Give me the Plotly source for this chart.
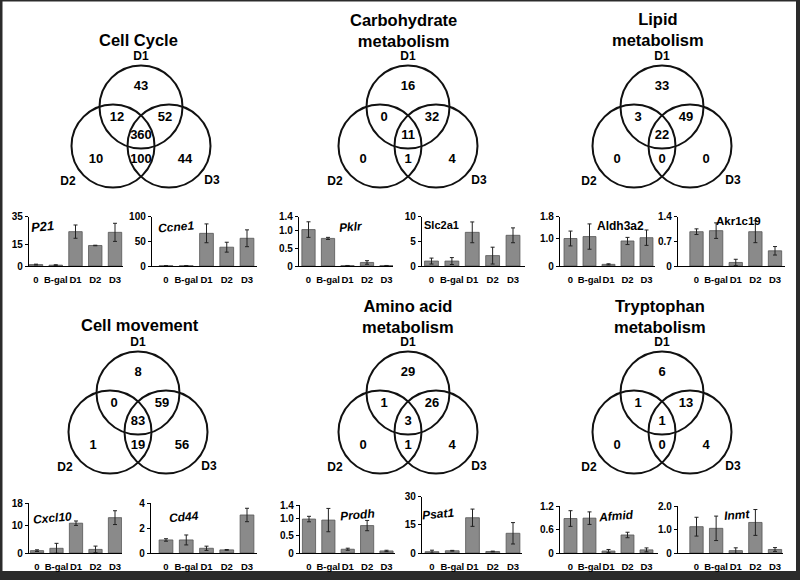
import plotly.graph_objects as go

# ---------------- data ----------------
categories = ["0", "B-gal", "D1", "D2", "D3"]

p21 = [1.0, 0.6, 24.3, 14.5, 23.8]
p21_err = [0.3, 0.3, 4.7, 0.2, 6.4]
ccne1 = [0.5, 0.5, 66, 38, 56]
ccne1_err = [0.3, 0.3, 19, 10, 17]
pklr = [1.03, 0.78, 0.01, 0.10, 0.01]
pklr_err = [0.22, 0.03, 0.005, 0.05, 0.005]
slc2a1 = [1.0, 1.0, 6.8, 2.1, 6.2]
slc2a1_err = [0.6, 0.7, 2.1, 1.7, 1.5]
aldh3a2 = [1.0, 1.07, 0.06, 0.91, 1.03]
aldh3a2_err = [0.27, 0.46, 0.02, 0.13, 0.28]
akr1c19 = [0.97, 1.0, 0.10, 0.97, 0.43]
akr1c19_err = [0.08, 0.22, 0.09, 0.31, 0.12]
cxcl10 = [0.85, 1.7, 10.8, 1.3, 12.8]
cxcl10_err = [0.3, 1.8, 0.8, 1.2, 2.5]
cd44 = [1.05, 1.05, 0.38, 0.25, 3.06]
cd44_err = [0.1, 0.4, 0.17, 0.03, 0.54]
prodh = [0.99, 0.96, 0.11, 0.80, 0.06]
prodh_err = [0.08, 0.34, 0.03, 0.15, 0.02]
psat1 = [0.7, 1.2, 18.8, 0.8, 10.5]
psat1_err = [0.8, 0.2, 4.6, 0.2, 5.7]
afmid = [0.88, 0.89, 0.05, 0.46, 0.08]
afmid_err = [0.20, 0.16, 0.04, 0.07, 0.05]
inmt = [1.12, 1.05, 0.10, 1.30, 0.15]
inmt_err = [0.40, 0.52, 0.12, 0.55, 0.08]

p21_ticks = [0, 15, 35]
ccne1_ticks = [0, 50, 100]
pklr_ticks = [0, 0.5, 1.0, 1.4]
slc2a1_ticks = [0, 5, 10]
aldh3a2_ticks = [0, 1.0, 1.8]
akr1c19_ticks = [0, 0.7, 1.4]
cxcl10_ticks = [0, 10, 18]
cd44_ticks = [0, 2, 4]
prodh_ticks = [0, 0.5, 1.0, 1.4]
psat1_ticks = [0, 15, 30]
afmid_ticks = [0, 0.6, 1.2]
inmt_ticks = [0, 1.0, 2.0]

p21_labels = ["0", "15", "35"]
ccne1_labels = ["0", "50", "100"]
pklr_labels = ["0", "0.5", "1.0", "1.4"]
slc2a1_labels = ["0", "5", "10"]
aldh3a2_labels = ["0", "1.0", "1.8"]
akr1c19_labels = ["0", "0.7", "1.4"]
cxcl10_labels = ["0", "10", "18"]
cd44_labels = ["0", "2", "4"]
prodh_labels = ["0", "0.5", "1.0", "1.4"]
psat1_labels = ["0", "15", "30"]
afmid_labels = ["0", "0.6", "1.2"]
inmt_labels = ["0", "1.0", "2.0"]

# Venn counts: [D1 only, D1&D2, D1&D3, D1&D2&D3, D2 only, D2&D3, D3 only]
venn_sets = ["D1", "D2", "D3"]
cell_cycle = [43, 12, 52, 360, 10, 100, 44]
carbohydrate = [16, 0, 32, 11, 0, 1, 4]
lipid = [33, 3, 49, 22, 0, 0, 0]
cell_movement = [8, 0, 59, 83, 1, 19, 56]
amino_acid = [29, 1, 26, 3, 0, 1, 4]
tryptophan = [6, 1, 13, 1, 0, 0, 4]

# ---------------- layout helpers ----------------
W, H = 800, 580
FONT = "Liberation Sans, Arial, sans-serif"

def px(x):
    return x / W

def py(y):
    return 1 - y / H

# (values, errors, tickvals, ticktext, axis-left px, first-center px, last-center px, right px, top px, base px,
#  gene label, label x, label y, italic, label size)
bar_panels = [
    (p21, p21_err, p21_ticks, p21_labels, 29, 36, 115, 123, 216.5, 266, "P21", 42, 226, True, 13),
    (ccne1, ccne1_err, ccne1_ticks, ccne1_labels, 152, 166, 247, 257, 216.5, 266, "Ccne1", 176, 227, True, 12),
    (pklr, pklr_err, pklr_ticks, pklr_labels, 299, 308.5, 386.5, 393, 216.5, 266, "Pklr", 351, 227, True, 12),
    (slc2a1, slc2a1_err, slc2a1_ticks, slc2a1_labels, 422, 431.5, 513, 525, 216.5, 266, "Slc2a1", 441, 225, False, 11),
    (aldh3a2, aldh3a2_err, aldh3a2_ticks, aldh3a2_labels, 560, 570.5, 646.5, 655, 216.5, 266, "Aldh3a2", 620, 226, False, 12),
    (akr1c19, akr1c19_err, akr1c19_ticks, akr1c19_labels, 678, 696.5, 775, 785, 216.5, 266, "Akr1c19", 738, 221, False, 11.5),
    (cxcl10, cxcl10_err, cxcl10_ticks, cxcl10_labels, 29, 37, 115, 122, 503.3, 553, "Cxcl10", 52.5, 518, True, 12),
    (cd44, cd44_err, cd44_ticks, cd44_labels, 151, 166, 247, 257, 503.3, 553, "Cd44", 184, 517, True, 12),
    (prodh, prodh_err, prodh_ticks, prodh_labels, 300, 309, 386.5, 395, 505, 553, "Prodh", 357, 515, True, 12),
    (psat1, psat1_err, psat1_ticks, psat1_labels, 422, 432, 513, 522, 496.7, 553, "Psat1", 438, 513.5, True, 12),
    (afmid, afmid_err, afmid_ticks, afmid_labels, 560, 570.5, 646.5, 658, 506, 553, "Afmid", 616, 516, True, 12),
    (inmt, inmt_err, inmt_ticks, inmt_labels, 678, 696.5, 775, 783, 506, 553, "Inmt", 737, 515, True, 12),
]

fig = go.Figure()
layout_axes = {}
annotations = []

for i, (vals, errs, tv, tt, left, first, last, right, top, base, gene, lx, ly, ital, lsize) in enumerate(bar_panels):
    n = i + 1
    xid = "x" if n == 1 else f"x{n}"
    yid = "y" if n == 1 else f"y{n}"
    xkey = "xaxis" if n == 1 else f"xaxis{n}"
    ykey = "yaxis" if n == 1 else f"yaxis{n}"
    sp = (last - first) / 4.0
    fig.add_trace(go.Bar(
        x=categories, y=vals, xaxis=xid, yaxis=yid, width=0.68,
        marker=dict(color="#8a8a8a", line=dict(color="#555555", width=0.8)),
        error_y=dict(type="data", array=errs, visible=True, color="#222222", thickness=1, width=2),
        showlegend=False, hoverinfo="skip",
    ))
    layout_axes[xkey] = dict(
        domain=[px(left), px(right)], anchor=yid, type="category",
        range=[-(first - left) / sp, 4 + (right - last) / sp],
        showline=True, linecolor="black", linewidth=1.2, showgrid=False, zeroline=False,
        ticks="", tickangle=0, tickfont=dict(family=FONT, size=9.5, color="black", weight="bold"),
        ticklabelstandoff=4, fixedrange=True, automargin=False,
    )
    layout_axes[ykey] = dict(
        domain=[py(base), py(top)], anchor=xid, range=[0, tv[-1]],
        tickvals=tv, ticktext=tt,
        showline=True, linecolor="black", linewidth=1.2, showgrid=False, zeroline=False,
        ticks="outside", ticklen=3, tickcolor="black", tickwidth=1,
        tickfont=dict(family=FONT, size=10, color="black", weight="bold"),
        fixedrange=True, automargin=False,
    )
    text = f"<b><i>{gene}</i></b>" if ital else f"<b>{gene}</b>"
    annotations.append(dict(
        x=lx, y=ly, xref="x13", yref="y13", text=text, showarrow=False,
        textangle=-5 if ital else 0,
        font=dict(family=FONT, size=lsize, color="black"),
    ))

# ---------------- Venn diagrams ----------------
R = 41.5
circle_offsets = [(0, 0), (-28, 39), (28, 39)]  # D1, D2, D3 circle centres relative to D1 centre
region_offsets = [(0, -20), (-24, 11), (24, 11), (0, 29), (-45, 53), (0, 53), (44, 53)]
set_label_offsets = [(0, -50), (-73, 75), (71, 74)]

venn_panels = [
    (cell_cycle, "Cell Cycle", 141, 107, -3, -67),
    (carbohydrate, "Carbohydrate<br>metabolism", 408, 107, -5, -77),
    (lipid, "Lipid<br>metabolism", 662, 107, -4, -78),
    (cell_movement, "Cell movement", 138, 393, 2, -68),
    (amino_acid, "Amino acid<br>metabolism", 408, 393, 0, -77),
    (tryptophan, "Tryptophan<br>metabolism", 662, 393, -2, -77),
]

shapes = []
for counts, title, cx, cy, tdx, tdy in venn_panels:
    for ox, oy in circle_offsets:
        shapes.append(dict(type="circle", xref="x13", yref="y13",
                           x0=cx + ox - R, x1=cx + ox + R, y0=cy + oy - R, y1=cy + oy + R,
                           line=dict(color="#111111", width=2)))
    fig.add_trace(go.Scatter(
        x=[cx + dx for dx, dy in region_offsets], y=[cy + dy for dx, dy in region_offsets],
        text=[str(c) for c in counts], mode="text", xaxis="x13", yaxis="y13",
        textfont=dict(family=FONT, size=13, color="black", weight="bold"),
        showlegend=False, hoverinfo="skip",
    ))
    fig.add_trace(go.Scatter(
        x=[cx + dx for dx, dy in set_label_offsets], y=[cy + dy for dx, dy in set_label_offsets],
        text=venn_sets, mode="text", xaxis="x13", yaxis="y13",
        textfont=dict(family=FONT, size=12, color="black", weight="bold"),
        showlegend=False, hoverinfo="skip",
    ))
    annotations.append(dict(
        x=cx + tdx, y=cy + tdy, xref="x13", yref="y13", text=f"<b>{title}</b>",
        showarrow=False, font=dict(family=FONT, size=16.5, color="black"),
    ))

layout_axes["xaxis13"] = dict(domain=[0, 1], range=[0, W], anchor="y13", visible=False, fixedrange=True)
layout_axes["yaxis13"] = dict(domain=[0, 1], range=[H, 0], anchor="x13", visible=False, fixedrange=True)

# frame: dark paper with a white inner panel
shapes.insert(0, dict(type="rect", xref="paper", yref="paper", layer="below",
                      x0=px(2.5), x1=px(796), y0=py(571), y1=py(1.5),
                      fillcolor="white", line=dict(width=0)))

fig.update_layout(
    width=W, height=H,
    margin=dict(l=0, r=0, t=0, b=0),
    paper_bgcolor="#2b2b2b", plot_bgcolor="rgba(0,0,0,0)",
    showlegend=False, bargap=0.3,
    shapes=shapes, annotations=annotations,
    font=dict(family=FONT, color="black"),
    **layout_axes,
)

fig.write_html(
    "out.html",
    config={"displayModeBar": False, "staticPlot": True},
    post_script="document.body.style.margin='0';document.body.style.overflow='hidden';",
)
